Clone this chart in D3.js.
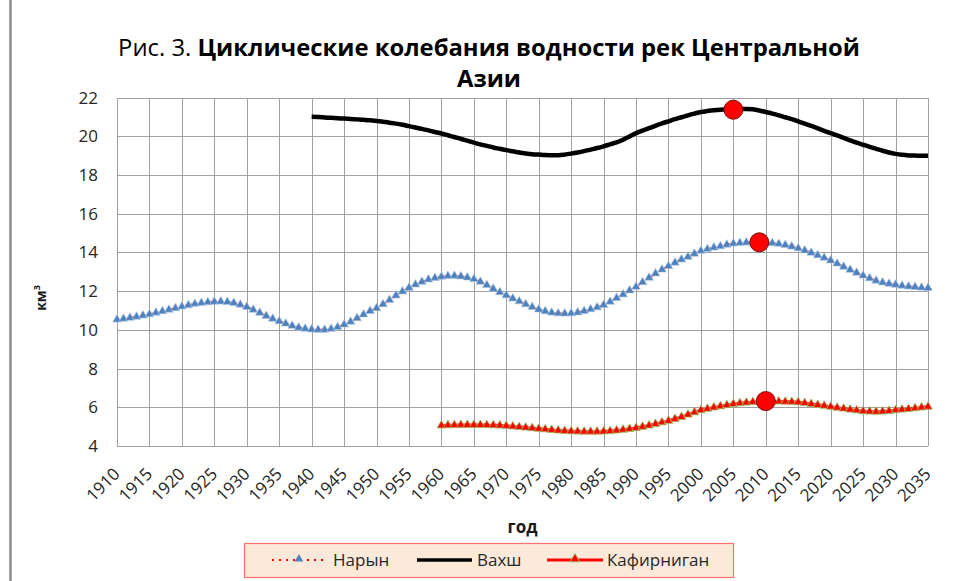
<!DOCTYPE html>
<html lang="ru">
<head>
<meta charset="utf-8">
<script src="https://cdn.jsdelivr.net/npm/d3@7"></script>
<style>
  html, body { margin: 0; padding: 0; background: #fff; }
  svg { display: block; font-family: "Open Sans", "Noto Sans", sans-serif; }
  .grid line { stroke: #a0a0a0; stroke-width: 1; shape-rendering: crispEdges; }
  .grid path { display: none; }
  .tick-label { fill: #262626; }
</style>
</head>
<body>
<svg id="chart" width="955" height="581"></svg>
<script>
// годы, км3
const narynYears = d3.range(1910, 2036);
const narynValues = [
  10.53, 10.57, 10.62, 10.68, 10.74, 10.80, 10.88, 10.96, 11.04, 11.12,
  11.20, 11.27, 11.34, 11.39, 11.43, 11.45, 11.46, 11.44, 11.39, 11.30,
  11.18, 11.04, 10.88, 10.72, 10.57, 10.44, 10.32, 10.21, 10.12, 10.06,
  10.02, 10.00, 10.00, 10.05, 10.14, 10.27, 10.42, 10.60, 10.79, 10.97,
  11.12, 11.32, 11.54, 11.77, 11.98, 12.17, 12.34, 12.48, 12.60, 12.68,
  12.74, 12.78, 12.79, 12.76, 12.70, 12.62, 12.48, 12.31, 12.12, 11.94,
  11.78, 11.62, 11.47, 11.32, 11.18, 11.05, 10.96, 10.89, 10.85, 10.84,
  10.85, 10.90, 10.97, 11.06, 11.16, 11.28, 11.45, 11.64, 11.83, 12.03,
  12.22, 12.46, 12.69, 12.91, 13.11, 13.29, 13.47, 13.63, 13.77, 13.93,
  14.08, 14.17, 14.25, 14.32, 14.40, 14.46, 14.49, 14.51, 14.52, 14.52,
  14.51, 14.48, 14.44, 14.38, 14.30, 14.21, 14.10, 13.98, 13.85, 13.72,
  13.58, 13.42, 13.26, 13.10, 12.95, 12.80, 12.66, 12.54, 12.45, 12.38,
  12.33, 12.28, 12.24, 12.21, 12.18, 12.16
];

const vakhshYears = d3.range(1940, 2036);
const vakhshValues = [
  21.00, 20.99, 20.97, 20.95, 20.93, 20.91, 20.89, 20.87, 20.85, 20.82,
  20.79, 20.75, 20.70, 20.65, 20.59, 20.52, 20.45, 20.38, 20.30, 20.22,
  20.14, 20.05, 19.96, 19.86, 19.77, 19.67, 19.58, 19.50, 19.42, 19.35,
  19.28, 19.22, 19.16, 19.11, 19.07, 19.05, 19.03, 19.02, 19.02, 19.05,
  19.10, 19.16, 19.23, 19.31, 19.39, 19.48, 19.58, 19.68, 19.82, 19.99,
  20.16, 20.29, 20.42, 20.54, 20.66, 20.77, 20.88, 20.98, 21.08, 21.17,
  21.25, 21.30, 21.34, 21.37, 21.39, 21.40, 21.41, 21.41, 21.39, 21.33,
  21.25, 21.17, 21.08, 20.98, 20.88, 20.77, 20.65, 20.53, 20.41, 20.28,
  20.16, 20.04, 19.91, 19.79, 19.67, 19.56, 19.45, 19.35, 19.25, 19.16,
  19.09, 19.04, 19.01, 19.00, 18.99, 18.99
];

const kafirYears = d3.range(1960, 2036);
const kafirValues = [
  5.06, 5.07, 5.08, 5.09, 5.09, 5.09, 5.09, 5.08, 5.07, 5.06,
  5.04, 5.01, 4.98, 4.95, 4.92, 4.89, 4.86, 4.83, 4.80, 4.78,
  4.76, 4.75, 4.74, 4.74, 4.74, 4.75, 4.77, 4.80, 4.84, 4.88,
  4.93, 4.99, 5.06, 5.14, 5.22, 5.30, 5.40, 5.50, 5.62, 5.74,
  5.85, 5.92, 5.99, 6.05, 6.11, 6.17, 6.21, 6.24, 6.27, 6.29,
  6.30, 6.30, 6.30, 6.29, 6.28, 6.26, 6.22, 6.17, 6.12, 6.08,
  6.03, 5.98, 5.93, 5.88, 5.84, 5.80, 5.78, 5.77, 5.78, 5.81,
  5.85, 5.88, 5.91, 5.95, 5.99, 6.03
];

// максимумы (красные кружки)
const peakYears = [2005, 2009, 2010];
const peakValues = [21.37, 14.52, 6.32];

const xTicks = d3.range(1910, 2036, 5);
const yTicks = [4, 6, 8, 10, 12, 14, 16, 18, 20, 22];
const seriesNames = ['Нарын', 'Вахш', 'Кафирниган'];

const svg = d3.select('#chart');

// рамка слева
svg.append('line')
  .attr('x1', 10.5).attr('x2', 10.5).attr('y1', 0).attr('y2', 581)
  .attr('stroke', '#8c8c8c').attr('stroke-width', 2.5);

const plot = { left: 117, right: 928, top: 97.5, bottom: 446 };

const x = d3.scaleLinear().domain([1910, 2035]).range([plot.left, plot.right]);
const y = d3.scaleLinear().domain([4, 22]).range([plot.bottom, plot.top]);

// Сетка
svg.append('g')
  .attr('class', 'grid')
  .attr('transform', `translate(0,${plot.bottom})`)
  .call(d3.axisBottom(x).tickValues(xTicks).tickSize(-(plot.bottom - plot.top)).tickFormat(''));

svg.append('g')
  .attr('class', 'grid')
  .attr('transform', `translate(${plot.left},0)`)
  .call(d3.axisLeft(y).tickValues(yTicks).tickSize(-(plot.right - plot.left)).tickFormat(''));

// Подписи осей
svg.append('g').selectAll('text')
  .data(yTicks)
  .enter().append('text')
  .attr('class', 'tick-label')
  .attr('font-size', 17)
  .attr('x', 98)
  .attr('y', d => y(d) + 6)
  .attr('text-anchor', 'end')
  .text(d => d);

svg.append('g').selectAll('text')
  .data(xTicks)
  .enter().append('text')
  .attr('class', 'tick-label')
  .attr('font-size', 17)
  .attr('text-anchor', 'end')
  .attr('transform', d => `translate(${x(d) + 4},475) rotate(-45)`)
  .text(d => d);

svg.append('text')
  .attr('x', (plot.left + plot.right) / 2)
  .attr('y', 533)
  .attr('text-anchor', 'middle')
  .attr('font-weight', 'bold')
  .attr('font-size', 17)
  .attr('fill', '#1a1a1a')
  .text('год');

const yTitle = svg.append('text')
  .attr('transform', 'translate(46,298) rotate(-90)')
  .attr('text-anchor', 'middle')
  .attr('font-weight', 'bold')
  .attr('font-size', 14)
  .attr('fill', '#1a1a1a');
yTitle.append('tspan').text('км');
yTitle.append('tspan').attr('font-size', 9).attr('dy', -6).text('3');

// Заголовок
const title = svg.append('g').attr('font-size', 26).attr('fill', '#000');
const t1 = title.append('text').attr('x', 489).attr('y', 56).attr('text-anchor', 'middle');
t1.append('tspan').text('Рис. 3. ');
t1.append('tspan').attr('font-weight', 'bold').text('Циклические колебания водности рек Центральной');
title.append('text').attr('x', 489).attr('y', 87).attr('text-anchor', 'middle')
  .attr('font-weight', 'bold').text('Азии');
const fit = 742 / t1.node().getComputedTextLength();
title.attr('font-size', 26 * fit);

// Линии
const line = d3.line().x(d => x(d[0])).y(d => y(d[1])).curve(d3.curveMonotoneX);
const naryn = narynYears.map((d, i) => [d, narynValues[i]]);
const vakhsh = vakhshYears.map((d, i) => [d, vakhshValues[i]]);
const kafir = kafirYears.map((d, i) => [d, kafirValues[i]]);

svg.append('path').datum(vakhsh)
  .attr('d', line).attr('fill', 'none')
  .attr('stroke', '#000').attr('stroke-width', 4.5).attr('stroke-linejoin', 'round');

svg.append('path').datum(naryn)
  .attr('d', line).attr('fill', 'none')
  .attr('stroke', '#ff0000').attr('stroke-width', 2)
  .attr('stroke-dasharray', '2,3');

const tri = d3.symbol().type(d3.symbolTriangle).size(32);

svg.append('g').selectAll('path')
  .data(naryn)
  .enter().append('path')
  .attr('d', tri)
  .attr('transform', d => `translate(${x(d[0])},${y(d[1])})`)
  .attr('fill', '#4f81bd')
  .attr('stroke', '#a8c2e4').attr('stroke-width', 0.6);

svg.append('path').datum(kafir)
  .attr('d', line).attr('fill', 'none')
  .attr('stroke', '#ff0000').attr('stroke-width', 3);

svg.append('g').selectAll('path')
  .data(kafir)
  .enter().append('path')
  .attr('d', tri)
  .attr('transform', d => `translate(${x(d[0])},${y(d[1])})`)
  .attr('fill', '#ff0000')
  .attr('stroke', '#9bbb59').attr('stroke-width', 0.8);

svg.append('g').selectAll('circle')
  .data(peakYears)
  .enter().append('circle')
  .attr('cx', d => x(d))
  .attr('cy', (d, i) => y(peakValues[i]))
  .attr('r', 9.5)
  .attr('fill', '#ff0000')
  .attr('stroke', '#7a1010').attr('stroke-width', 1);

// Легенда
const legend = svg.append('g');
legend.append('rect')
  .attr('x', 244.5).attr('y', 543.5).attr('width', 489).attr('height', 34)
  .attr('fill', '#fde9d9').attr('stroke', '#ff7070').attr('stroke-width', 1.2);

const ly = 560;
legend.append('line')
  .attr('x1', 272).attr('x2', 324).attr('y1', ly).attr('y2', ly)
  .attr('stroke', '#ff0000').attr('stroke-width', 2).attr('stroke-dasharray', '2,5');
legend.append('path').attr('d', tri)
  .attr('transform', `translate(299,${ly - 1})`).attr('fill', '#4f81bd');

legend.append('line')
  .attr('x1', 417).attr('x2', 472).attr('y1', ly).attr('y2', ly)
  .attr('stroke', '#000').attr('stroke-width', 3.5);

legend.append('line')
  .attr('x1', 547).attr('x2', 603).attr('y1', ly).attr('y2', ly)
  .attr('stroke', '#ff0000').attr('stroke-width', 3);
legend.append('path').attr('d', d3.symbol().type(d3.symbolTriangle).size(40))
  .attr('transform', `translate(575,${ly - 1})`).attr('fill', '#ff0000')
  .attr('stroke', '#9bbb59').attr('stroke-width', 1);

const labelX = [333, 477, 607];
legend.selectAll('text.leg')
  .data(seriesNames)
  .enter().append('text')
  .attr('class', 'leg')
  .attr('x', (d, i) => labelX[i])
  .attr('y', ly + 6)
  .attr('font-size', 17)
  .attr('fill', '#262626')
  .text(d => d);
</script>
</body>
</html>
